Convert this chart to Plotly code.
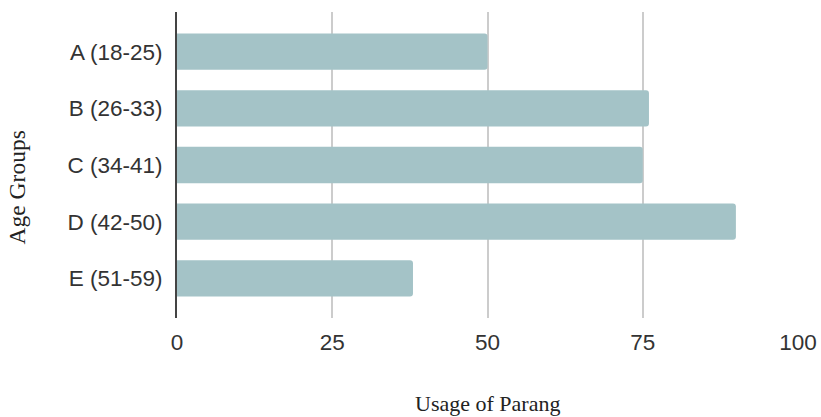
import plotly.graph_objects as go

categories = ["A (18-25)", "B (26-33)", "C (34-41)", "D (42-50)", "E (51-59)"]
usage = [50, 76, 75, 90, 38]
x_ticks = [0, 25, 50, 75, 100]

fig = go.Figure()
fig.add_trace(go.Bar(
    y=categories, x=usage, orientation="h",
    marker=dict(color="#a4c3c7", cornerradius=3, line=dict(width=0)),
    width=0.64,
))

tick_font = dict(family="Liberation Sans, Arial, sans-serif", size=22.5, color="#333")
title_font = dict(family="Liberation Serif, Times New Roman, serif", size=22, color="#222")

fig.update_layout(
    width=821, height=417,
    margin=dict(l=177, r=23, t=12, b=99),
    paper_bgcolor="white", plot_bgcolor="white",
    showlegend=False,
    xaxis=dict(
        range=[0, 100], tickvals=x_ticks, ticktext=[str(v) for v in x_ticks],
        showgrid=True, gridcolor="#cccccc", gridwidth=2,
        zeroline=False, showline=False, automargin=False,
        ticklabelstandoff=8,
        tickfont=tick_font,
    ),
    yaxis=dict(
        categoryorder="array", categoryarray=categories,
        autorange=False, range=[4.7, -0.7],
        showgrid=False, zeroline=False, automargin=False,
        showline=True, linecolor="#444444", linewidth=2,
        ticks="", ticklabelstandoff=8,
        tickfont=tick_font,
    ),
    annotations=[
        dict(text="Usage of Parang", xref="paper", yref="paper",
             x=0.5, y=-0.278, yanchor="middle", xanchor="center", showarrow=False,
             font=title_font),
        dict(text="Age Groups", xref="paper", yref="paper",
             x=-0.257, y=0.428, textangle=-90, xanchor="center", yanchor="middle", showarrow=False,
             font=dict(family=title_font["family"], size=23.5, color="#222")),
    ],
)

fig.write_html("out.html")
